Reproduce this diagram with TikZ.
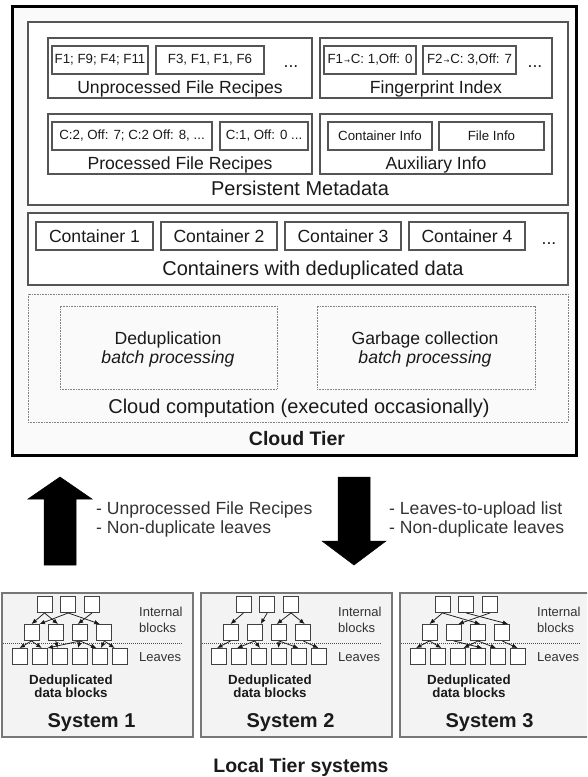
\documentclass[tikz,border=0pt]{standalone}
\usepackage{fontspec}
\setmainfont{Liberation Sans}
\newfontfamily\dejavu{DejaVu Sans}
\usetikzlibrary{arrows.meta}
\definecolor{edge}{HTML}{555555}
\definecolor{ink}{HTML}{1A1A1A}
\definecolor{soft}{HTML}{333333}
\definecolor{sysfill}{HTML}{F3F3F3}
\definecolor{sysedge}{HTML}{777777}
\definecolor{cloudfill}{HTML}{FAFAFA}
\newcommand{\mysz}[1]{\fontsize{#1}{#1}\selectfont}
\newcommand{\rarr}{\kern1pt{\dejavu\fontsize{7}{7}\selectfont →}\kern1pt}
\begin{document}
\begin{tikzpicture}[x=1pt,y=-1pt,
  grp/.style={draw=edge, line width=1.2pt, fill=white, inner sep=0},
  cell/.style={draw=edge, line width=1.1pt, fill=white, inner sep=0, minimum height=28, text=ink, font=\mysz{13.3}},
  cont/.style={draw=edge, line width=1.1pt, fill=white, inner sep=0, minimum height=28, minimum width=116, text=ink, font=\mysz{17.6}},
  dotbox/.style={draw=gray, line width=0.8pt, dash pattern=on 0.8pt off 0.8pt, inner sep=0},
  glbl/.style={anchor=base, text=ink, font=\mysz{17.6}, inner sep=0},
  blbl/.style={anchor=base, text=ink, font=\mysz{20}, inner sep=0},
  dots/.style={anchor=base, text=ink, font=\mysz{17.6}, inner sep=0},
  side/.style={anchor=base west, text=soft, font=\mysz{17.6}, inner sep=0},
  sysbox/.style={draw=sysedge, line width=1.1pt, fill=sysfill, inner sep=0},
  blk/.style={draw=black!75, line width=0.9pt, fill=white, minimum width=15, minimum height=16, inner sep=0},
  tarr/.style={-{Latex[length=5.5pt,width=4.5pt]}, line width=0.75pt, draw=black!90},
  small/.style={anchor=base west, text=soft, font=\mysz{13}, inner sep=0},
  ddb/.style={anchor=base, text=ink, font=\bfseries\mysz{13.3}, inner sep=0},
  sysname/.style={anchor=base, text=ink, font=\bfseries\mysz{20}, inner sep=0},
  sepline/.style={draw=black!70, line width=0.8pt, dash pattern=on 1pt off 1pt},
  bigarrow/.style={fill=black, draw=black, line width=0.5pt}
]
\useasboundingbox (0,0) rectangle (587,777);
\clip (0,0) rectangle (587,777);

% ---------------- Cloud tier ----------------
\node[draw=black, line width=3pt, fill=cloudfill, minimum width=564, minimum height=449, inner sep=0] (cloud) at (294,230.5) {};
\node[anchor=base, text=ink, font=\bfseries\mysz{19.5}, inner sep=0] (cloudlbl) at (297,445) {Cloud Tier};

% Persistent metadata
\node[grp, minimum width=540, minimum height=183] (persist) at (298,113.5) {};
\node[blbl] (persistlbl) at (300,195) {Persistent Metadata};

\node[grp, minimum width=264, minimum height=60] (upr) at (180,68) {};
\node[grp, minimum width=232, minimum height=60] (fpi) at (436,68) {};
\node[grp, minimum width=264, minimum height=60] (pr) at (180,144) {};
\node[grp, minimum width=232, minimum height=60] (aux) at (436,144) {};

\node[cell, minimum width=96] (u1) at (100,60) {F1; F9; F4; F11};
\node[cell, minimum width=108] (u2) at (210,60) {F3, F1, F1, F6};
\node[dots] (udots) at (291,67.5) {...};
\node[glbl] (uprlbl) at (180,93) {Unprocessed File Recipes};

\node[cell, minimum width=92] (f1) at (370,60) {F1\rarr C: 1,Off: 0};
\node[cell, minimum width=93] (f2) at (469.5,60) {F2\rarr C: 3,Off: 7};
\node[dots] (fdots) at (535,67.5) {...};
\node[glbl] (fpilbl) at (436,93) {Fingerprint Index};

\node[cell, minimum width=160] (p1) at (132,136) {C:2, Off: 7; C:2 Off: 8, ...};
\node[cell, minimum width=88] (p2) at (264,136) {C:1, Off: 0 ...};
\node[glbl] (prlbl) at (180,169) {Processed File Recipes};

\node[cell, minimum width=104] (a1) at (380,136) {Container Info};
\node[cell, minimum width=105] (a2) at (491.5,136) {File Info};
\node[glbl] (auxlbl) at (436,169) {Auxiliary Info};

% Containers
\node[grp, minimum width=540, minimum height=72] (conts) at (298,249) {};
\node[cont, minimum width=117] (c1) at (94.5,236) {Container 1};
\node[cont] (c2) at (219,236) {Container 2};
\node[cont] (c3) at (343,236) {Container 3};
\node[cont] (c4) at (467,236) {Container 4};
\node[dots] (cdots) at (549,244) {...};
\node[blbl] (contslbl) at (313,275) {Containers with deduplicated data};

% Cloud computation
\node[dotbox, minimum width=540, minimum height=128] (comp) at (298,358) {};
\node[dotbox, minimum width=217, minimum height=83] (dedup) at (168.5,347.5) {};
\node[dotbox, minimum width=218, minimum height=83] (gc) at (426,347.5) {};
\node[glbl] (deduplbl) at (168,344) {Deduplication};
\node[glbl, font=\itshape\mysz{17.6}] (dedupbp) at (168,363) {batch processing};
\node[glbl] (gclbl) at (425,344) {Garbage collection};
\node[glbl, font=\itshape\mysz{17.6}] (gcbp) at (425,363) {batch processing};
\node[blbl] (complbl) at (299,413) {Cloud computation (executed occasionally)};

% ---------------- transfer arrows ----------------
\path[bigarrow] (44,565) -- (44,499) -- (28,499) -- (60,477) -- (92,499) -- (76,499) -- (76,565) -- cycle;
\path[bigarrow] (338,477) -- (370,477) -- (370,541) -- (386,541) -- (354,565) -- (322,541) -- (338,541) -- cycle;
\node[side] (up1) at (96,514) {- Unprocessed File Recipes};
\node[side] (up2) at (96,533) {- Non-duplicate leaves};
\node[side] (dn1) at (389,514) {- Leaves-to-upload list};
\node[side] (dn2) at (389,533) {- Non-duplicate leaves};

% ---------------- local systems ----------------
\foreach \k/\dx in {1/0,2/199,3/398}{
  \begin{scope}[xshift=\dx]
    \node[sysbox, minimum width=191, minimum height=144] (sys\k) at (97.5,665) {};
    \foreach \i/\x in {1/44.5,2/68.2,3/92}
      \node[blk] (s\k-t\i) at (\x,604.5) {};
    \foreach \i/\x in {1/31.5,2/55.8,3/80,4/104.3}
      \node[blk] (s\k-m\i) at (\x,632.5) {};
    \foreach \i/\x in {1/19.5,2/39.5,3/59.5,4/79.5,5/99.5,6/119.5}
      \node[blk] (s\k-b\i) at (\x,656.5) {};
    \draw[sepline] (3,643) -- (183,643);
    \node[small] (s\k-int) at (139,616.5) {Internal};
    \node[small] (s\k-blocks) at (139,632) {blocks};
    \node[small] (s\k-leaves) at (139,661.5) {Leaves};
    \node[ddb] (s\k-dd1) at (71,684) {Deduplicated};
    \node[ddb] (s\k-dd2) at (71,697.5) {data blocks};
    \node[sysname] (s\k-name) at (91.5,727) {System \k};
  \end{scope}
}

% System 1 edges
\draw[tarr] (s1-t1.south) -- (s1-m1.north);
\draw[tarr] (s1-t1.south) -- (s1-m2.75);
\draw[tarr] (s1-t2.south) -- (s1-m1.north east);
\draw[tarr] (s1-t2.south) -- (s1-m4.118);
\draw[tarr] (s1-t3.south) -- (s1-m3.105);
\draw[tarr] (s1-m1.south) -- (s1-b1.north);
\draw[tarr] (s1-m1.south) -- (s1-b2.75);
\draw[tarr] (s1-m2.south) -- (s1-b3.103);
\draw[tarr] (s1-m3.south) -- (s1-b2.north east);
\draw[tarr] (s1-m3.south) -- (s1-b4.100);
\draw[tarr] (s1-m3.south) -- (s1-b5.110);
\draw[tarr] (s1-m4.south) -- (s1-b5.80);
\draw[tarr] (s1-m4.south) -- (s1-b6.120);

% System 2 edges
\draw[tarr] (s2-t1.south) -- (s2-m1.north);
\draw[tarr] (s2-t2.south) -- (s2-m2.55);
\draw[tarr] (s2-t3.south) -- (s2-m3.105);
\draw[tarr] (s2-t3.south) -- (s2-m4.80);
\draw[tarr] (s2-m1.south) -- (s2-b1.100);
\draw[tarr] (s2-m2.south) -- (s2-b2.100);
\draw[tarr] (s2-m2.south) -- (s2-b3.80);
\draw[tarr] (s2-m3.south) -- (s2-b4.north);
\draw[tarr] (s2-m3.south) -- (s2-b5.north);
\draw[tarr] (s2-m4.south) -- (s2-b6.north);

% System 3 edges
\draw[tarr] (s3-t1.south) -- (s3-m1.north);
\draw[tarr] (s3-t1.south) -- (s3-m3.75);
\draw[tarr] (s3-t2.south) -- (s3-m4.55);
\draw[tarr] (s3-t3.south) -- (s3-m2.62);
\draw[tarr] (s3-m1.south) -- (s3-b1.100);
\draw[tarr] (s3-m1.south) -- (s3-b2.65);
\draw[tarr] (s3-m2.south) -- (s3-b4.60);
\draw[tarr] (s3-m3.south) -- (s3-b3.55);
\draw[tarr] (s3-m3.south) -- (s3-b5.100);
\draw[tarr] (s3-m4.south) -- (s3-b6.north);

\node[anchor=base, text=ink, font=\bfseries\mysz{19.5}, inner sep=0] (local) at (301,772) {Local Tier systems};
\end{tikzpicture}
\end{document}
